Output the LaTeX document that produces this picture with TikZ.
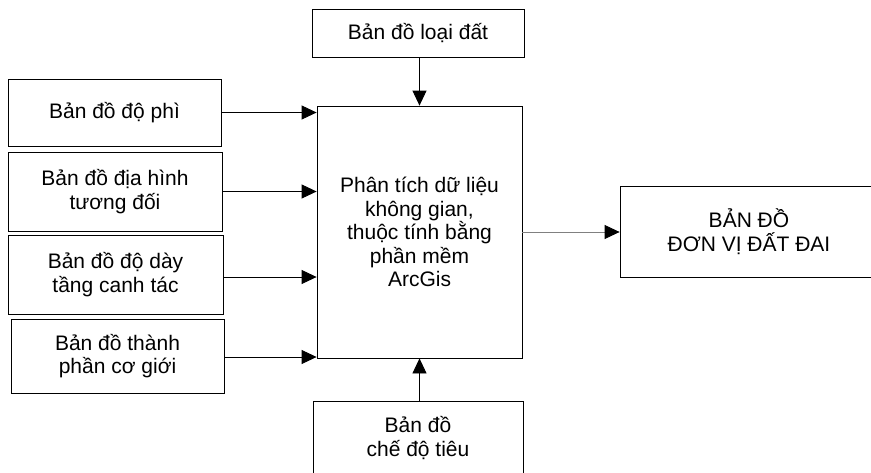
\documentclass[tikz,border=0pt]{standalone}
\usepackage{fontspec}
\setmainfont{Liberation Sans}
\usetikzlibrary{arrows.meta}

\begin{document}
\begin{tikzpicture}[x=1pt,y=-1pt,->,>={Triangle[length=15pt,width=14pt,color=black]},
  line width=0.8pt,
  map node/.style={draw,rectangle,align=center,inner sep=0pt,
    font=\fontsize{21}{23.5}\selectfont}]

  \useasboundingbox (0,0) rectangle (871,472);
  \clip (0,0) rectangle (871,472);

  \node[map node, minimum width=212pt, minimum height=48pt] (lo) at (418,33) {Bản đồ loại đất};
  \node[map node, minimum width=213pt, minimum height=67pt] (phi) at (114.5,112.5) {Bản đồ độ phì};
  \node[map node, minimum width=214pt, minimum height=79pt] (dh) at (115,191.5) {Bản đồ địa hình \\ tương đối};
  \node[map node, minimum width=215pt, minimum height=79pt] (day) at (115.5,274.5) {Bản đồ độ dày \\ tầng canh tác};
  \node[map node, minimum width=213pt, minimum height=74pt] (cg) at (117.5,356) {Bản đồ thành \\ phần cơ giới};
  \node[map node, minimum width=205pt, minimum height=252pt] (pt) at (419.5,232) {Phân tích dữ liệu \\ không gian, \\ thuộc tính bằng \\ phần mềm \\ ArcGis};
  \node[map node, minimum width=258pt, minimum height=91pt] (dv) at (749,231.5) {BẢN ĐỒ \\ ĐƠN VỊ ĐẤT ĐAI};
  \node[map node, minimum width=210pt, minimum height=74pt] (tieu) at (418,438) {Bản đồ \\ chế độ tiêu};

  \draw (lo.south -| pt.north) -- (pt.north);
  \draw (phi.east) -- (phi.east -| pt.west);
  \draw (dh.east) -- (dh.east -| pt.west);
  \draw ([yshift=-2.5pt]day.east) -- ([yshift=-2.5pt]day.east -| pt.west);
  \draw ([yshift=-1pt]cg.east) -- ([yshift=-1pt]cg.east -| pt.west);
  \draw (tieu.north -| pt.south) -- (pt.south);
  \draw[gray] (pt.east) -- (pt.east -| dv.west);
\end{tikzpicture}
\end{document}
